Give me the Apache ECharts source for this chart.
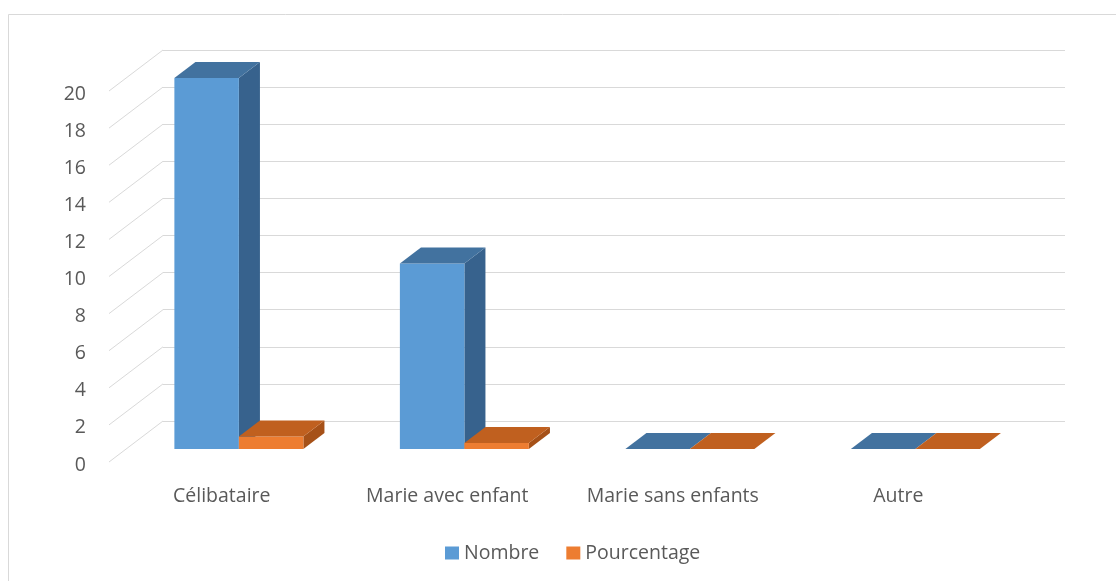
<!DOCTYPE html>
<html><head><meta charset="utf-8">
<script src="https://cdn.jsdelivr.net/npm/echarts@6/dist/echarts.min.js"></script>
<style>html,body{margin:0;padding:0;background:#fff}#main{width:1116px;height:581px}</style>
</head><body><div id="main"></div>
<script>
// ---- data ----
const categories = ['Célibataire', 'Marie avec enfant', 'Marie sans enfants', 'Autre'];
const seriesNames = ['Nombre', 'Pourcentage'];
const nombre = [20, 10, 0, 0];
const pourcentage = [0.67, 0.33, 0, 0];
const yTicks = [0, 2, 4, 6, 8, 10, 12, 14, 16, 18, 20];

// ---- style / geometry ----
const FONT = '"Open Sans", sans-serif';
const FS = 19.5;
const TXT = '#595959';
const GRID = '#D9D9D9';
const DX = -54, DY = 41;          // vector from back wall to front edge of floor
const F_FRONT = 28 / 41, F_BACK = 12 / 41; // bar depth position (fraction of floor depth)
const BAR_FRAC = 0.286;           // bar width relative to category band
const COLORS = [
  { front: '#5B9BD5', top: '#42729F', side: '#37628D' },
  { front: '#ED7D31', top: '#C0601F', side: '#A65118' }
];

function barRenderer(sIdx) {
  return function (params, api) {
    const cat = api.value(0), v = api.value(1);
    const p0 = api.coord([cat, 0]);
    const pv = api.coord([cat, v]);
    const band = api.size([1, 0])[0];
    const w = band * BAR_FRAC;
    const fx = DX * F_FRONT, fy = DY * F_FRONT;
    const ddx = -DX * (F_FRONT - F_BACK), ddy = -DY * (F_FRONT - F_BACK);
    const xl = p0[0] + fx + (sIdx === 0 ? -w : 0);
    const yb = p0[1] + fy, yt = pv[1] + fy;
    const c = COLORS[sIdx];
    const children = [];
    if (yb - yt > 0.01) {
      children.push({ type: 'polygon', shape: { points: [[xl + w, yt], [xl + w, yb], [xl + w + ddx, yb + ddy], [xl + w + ddx, yt + ddy]] }, style: { fill: c.side } });
      children.push({ type: 'rect', shape: { x: xl, y: yt, width: w, height: yb - yt }, style: { fill: c.front } });
    }
    children.push({ type: 'polygon', shape: { points: [[xl, yt], [xl + w, yt], [xl + w + ddx, yt + ddy], [xl + ddx, yt + ddy]] }, style: { fill: c.top } });
    return { type: 'group', children: children };
  };
}

const chart = echarts.init(document.getElementById('main'), null, { renderer: 'canvas' });
chart.setOption({
  animation: false,
  backgroundColor: '#fff',
  graphic: [{ type: 'rect', shape: { x: 8.5, y: 14.5, width: 1200, height: 700 }, style: { fill: 'none', stroke: GRID, lineWidth: 1 }, z: -1 }],
  legend: {
    data: seriesNames, left: 440, top: 538, icon: 'rect', itemWidth: 14, itemHeight: 13, itemGap: 27,
    textStyle: { fontFamily: FONT, fontSize: FS, color: TXT }
  },
  grid: [
    { left: 163, right: 51, top: 50, bottom: 160 },
    { left: 109, right: 105, top: 94, bottom: 116 }
  ],
  xAxis: [
    { type: 'category', data: categories, gridIndex: 0, axisLine: { show: false }, axisTick: { show: false }, axisLabel: { show: false } },
    { type: 'category', data: categories, gridIndex: 1, axisLine: { show: false }, axisTick: { show: false },
      axisLabel: { interval: 0, hideOverlap: false, color: TXT, fontFamily: FONT, fontSize: FS, margin: 21 } }
  ],
  yAxis: [
    { type: 'value', gridIndex: 0, min: 0, max: 20, interval: 2, axisLabel: { show: false },
      axisLine: { show: false }, axisTick: { show: false }, splitLine: { lineStyle: { color: GRID, width: 1 } } },
    { type: 'value', gridIndex: 1, min: 0, max: 20, interval: 2, axisLine: { show: false }, axisTick: { show: false },
      splitLine: { show: false }, axisLabel: { color: TXT, fontFamily: FONT, fontSize: FS, margin: 23 } }
  ],
  series: [
    {
      type: 'custom', name: '_diag', xAxisIndex: 0, yAxisIndex: 0, z: 1, silent: true,
      data: yTicks.map(v => [0, v]),
      renderItem: function (params, api) {
        const y = api.coord([0, api.value(1)])[1];
        const x = params.coordSys.x;
        return { type: 'line', shape: { x1: x, y1: y, x2: x + DX, y2: y + DY }, style: { stroke: GRID, lineWidth: 1 } };
      }
    },
    {
      type: 'custom', name: seriesNames[0], xAxisIndex: 0, yAxisIndex: 0, z: 2,
      itemStyle: { color: COLORS[0].front },
      data: nombre.map((v, i) => [i, v]),
      renderItem: barRenderer(0)
    },
    {
      type: 'custom', name: seriesNames[1], xAxisIndex: 0, yAxisIndex: 0, z: 3,
      itemStyle: { color: COLORS[1].front },
      data: pourcentage.map((v, i) => [i, v]),
      renderItem: barRenderer(1)
    }
  ]
});
</script></body></html>
